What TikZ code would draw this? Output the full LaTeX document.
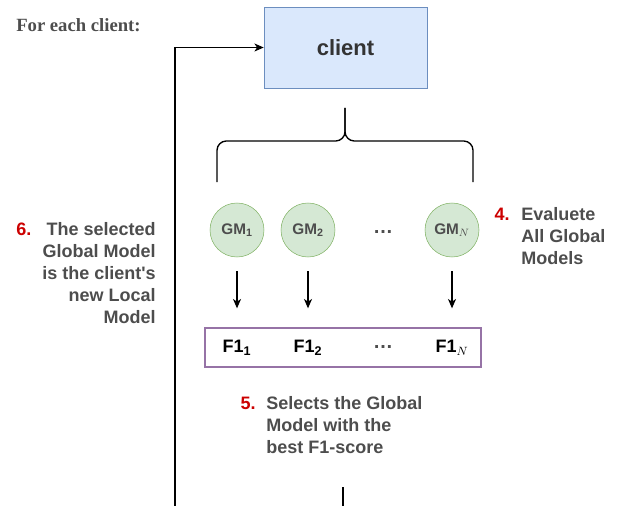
\documentclass[tikz,border=0pt]{standalone}
\usepackage{fontspec}
\setmainfont{Liberation Sans}
\newfontfamily\titlefont{Liberation Serif}
\usetikzlibrary{positioning,arrows.meta,calc}
\definecolor{clientfill}{HTML}{DAE8FC}
\definecolor{clientdraw}{HTML}{6C8EBF}
\definecolor{gmfill}{HTML}{D5E8D4}
\definecolor{gmdraw}{HTML}{82B366}
\definecolor{scoredraw}{HTML}{9673A6}
\definecolor{notegray}{HTML}{4D4D4D}
\definecolor{stepred}{HTML}{CC0000}

\begin{document}
\begin{tikzpicture}[
    x=0.75pt, y=-0.75pt,
    gm/.style={circle, draw=gmdraw, fill=gmfill, minimum size=40.5pt, inner sep=0pt,
        font=\fontsize{11.5}{13}\selectfont\bfseries, text=notegray},
    score/.style={font=\fontsize{13.5}{16}\selectfont\bfseries, text=black},
    note/.style={font=\fontsize{13.5}{16.5}\selectfont\bfseries, text=notegray, inner sep=0pt},
    num/.style={font=\fontsize{13.5}{16.5}\selectfont\bfseries, text=stepred, inner sep=0pt},
    dots/.style={font=\fontsize{15}{16}\selectfont\bfseries, text=notegray, inner sep=0pt},
    arr/.style={-{Stealth[length=7pt,width=6pt,inset=2pt]}, line width=1pt}
]
    \useasboundingbox (0,0) rectangle (617,506);

    % title and client
    \node[anchor=west, inner sep=0pt, font=\titlefont\fontsize{14}{16}\selectfont\bfseries, text=notegray] (title) at (16,25) {For each client:};
    \node[draw=clientdraw, fill=clientfill, minimum width=122.25pt, minimum height=60.75pt,
        font=\fontsize{16.5}{18}\selectfont\bfseries, text=black!80] (client) at (345.5,47.5) {client};

    % loop back into the client
    \coordinate (loopstart) at (175,506);
    \draw[arr] (loopstart) |- (client.west);

    % brace over the global models
    \coordinate (bracetop) at (345,108);
    \coordinate (braceleft) at (217,182);
    \coordinate (braceright) at (473,182);
    \draw[line width=1pt, rounded corners=7pt] (braceleft) |- (345,141) -- (bracetop);
    \draw[line width=1pt, rounded corners=7pt] (braceright) |- (345,141) -- (bracetop);

    % F1 box
    \node[draw=scoredraw, line width=1.5pt, minimum width=207pt, minimum height=29.25pt] (scores) at (343,347.5) {};

    % global models and their scores
    \foreach \i/\x/\lab in {1/237/1, 2/308/2, N/452/{$N$}} {
        \node[gm] (gm\i) at (\x,230) {GM\textsubscript{\lab}};
        \node[score] (f1\i) at (\x,348) {F1\textsubscript{\lab}};
        \draw[arr, shorten <=10.5pt, shorten >=14pt] (gm\i) -- (gm\i |- scores.north);
    }
    \node[dots] (gmdots) at (383,232) {\ldots};
    \node[dots] (f1dots) at (383,347) {\ldots};

    % step 4
    \node[note, anchor=north west, align=left] (evaluate) at (521,207.5) {Evaluete\\All Global\\Models};
    \node[num, anchor=north east] (num4) at ([xshift=-8.25pt]evaluate.north west) {4.};

    % step 5
    \node[note, anchor=north west, align=left] (select) at (266,396.5) {Selects the Global\\Model with the\\best F1-score};
    \node[num, anchor=north east] (num5) at ([xshift=-7.5pt]select.north west) {5.};

    % step 6
    \node[note, anchor=north east, align=right] (newlocal) at (156,222.5) {The selected\\Global Model\\is the client\textquotesingle s\\new Local\\Model};
    \node[num, anchor=north west] (num6) at (16,222.5) {6.};

    % continues below
    \coordinate (outtop) at (343,487);
    \coordinate (outbottom) at (343,506);
    \draw[line width=1pt] (outtop) -- (outbottom);
\end{tikzpicture}
\end{document}
